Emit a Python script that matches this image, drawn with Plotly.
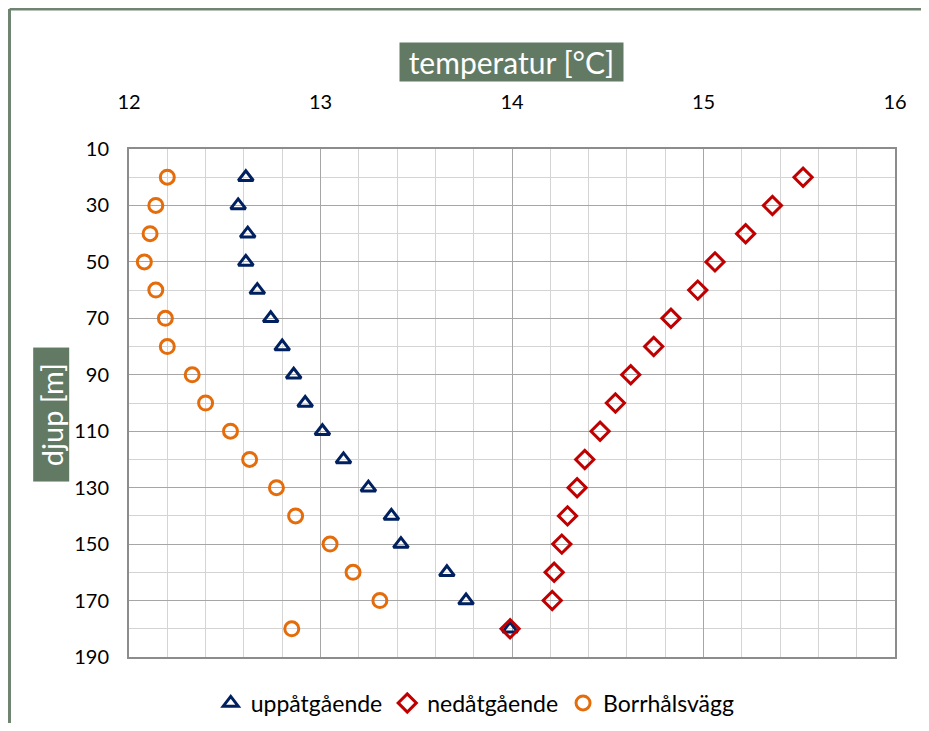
import plotly.graph_objects as go

# djup [m]
depth = [20, 30, 40, 50, 60, 70, 80, 90, 100, 110, 120, 130, 140, 150, 160, 170, 180]

# temperatur [°C]
t_upp = [12.61, 12.57, 12.62, 12.61, 12.67, 12.74, 12.80, 12.86, 12.92, 13.01,
         13.12, 13.25, 13.37, 13.42, 13.66, 13.76, 13.99]
t_ned = [15.52, 15.36, 15.22, 15.06, 14.97, 14.83, 14.74, 14.62, 14.54, 14.46,
         14.38, 14.34, 14.29, 14.26, 14.22, 14.21, 13.99]
t_vagg = [12.20, 12.14, 12.11, 12.08, 12.14, 12.19, 12.20, 12.33, 12.40, 12.53,
          12.63, 12.77, 12.87, 13.05, 13.17, 13.31, 12.85]

FONT = "Lato, 'Open Sans', sans-serif"
BOX = "#627a64"
NB = "\u00a0"

fig = go.Figure()
fig.add_trace(go.Scatter(
    x=t_upp, y=depth, mode="markers", name="uppåtgående",
    marker=dict(symbol="triangle-up-open", size=13, color="#002060",
                line=dict(width=3, color="#002060")),
))
fig.add_trace(go.Scatter(
    x=t_ned, y=depth, mode="markers", name="nedåtgående",
    marker=dict(symbol="diamond-open", size=14, color="#c00000",
                line=dict(width=3, color="#c00000")),
))
fig.add_trace(go.Scatter(
    x=t_vagg, y=depth, mode="markers", name="Borrhålsvägg",
    marker=dict(symbol="circle-open", size=14, color="#e46c0a",
                line=dict(width=3, color="#e46c0a")),
))

fig.update_xaxes(
    side="top", range=[12, 16], dtick=1, tick0=12,
    showgrid=True, gridcolor="#a6a6a6", gridwidth=1,
    minor=dict(dtick=0.2, showgrid=True, gridcolor="#d4d4d4", gridwidth=1),
    showline=True, linecolor="#8c8c8c", linewidth=2, mirror=True,
    ticks="", ticklabelstandoff=30, zeroline=False,
    tickfont=dict(size=20, color="#000000", family=FONT),
)
fig.update_yaxes(
    range=[190, 10], dtick=20, tick0=10,
    showgrid=True, gridcolor="#a6a6a6", gridwidth=1,
    minor=dict(dtick=10, tick0=10, showgrid=True, gridcolor="#d4d4d4", gridwidth=1),
    showline=True, linecolor="#8c8c8c", linewidth=2, mirror=True,
    ticks="", ticklabelstandoff=14, zeroline=False,
    tickfont=dict(size=20, color="#000000", family=FONT),
)

fig.add_annotation(
    text=NB + "temperatur [°C]" + NB, xref="paper", yref="paper", x=0.499, y=1.171,
    xanchor="center", yanchor="middle",
    showarrow=False, bgcolor=BOX, borderpad=1,
    font=dict(size=30, color="white", family=FONT),
)
fig.add_annotation(
    text=NB * 2 + "djup [m]" + NB * 2, xref="paper", yref="paper", x=-0.102, y=0.478,
    xanchor="center", yanchor="middle",
    textangle=-90, showarrow=False, bgcolor=BOX, borderpad=0,
    font=dict(size=29, color="white", family=FONT),
)

# frame: top and left edges only (the rest runs off the picture)
frame = dict(color="#6f8571", width=3)
fig.add_shape(type="line", xref="paper", yref="paper",
              x0=-0.156, x1=1.2, y0=1.2756, y1=1.2756, line=frame, layer="below")
fig.add_shape(type="line", xref="paper", yref="paper",
              x0=-0.156, x1=-0.156, y0=-0.2, y1=1.2756, line=frame, layer="below")

fig.update_layout(
    width=913, height=715,
    margin=dict(l=121, r=26, t=141, b=66),
    paper_bgcolor="white", plot_bgcolor="white",
    font=dict(family=FONT),
    showlegend=True,
    legend=dict(
        orientation="h", xref="paper", yref="container",
        x=0.452, y=0.028, xanchor="center", yanchor="middle",
        font=dict(size=23, color="#000000", family=FONT),
        itemwidth=30, tracegroupgap=0,
    ),
)

fig.write_html("out.html")
